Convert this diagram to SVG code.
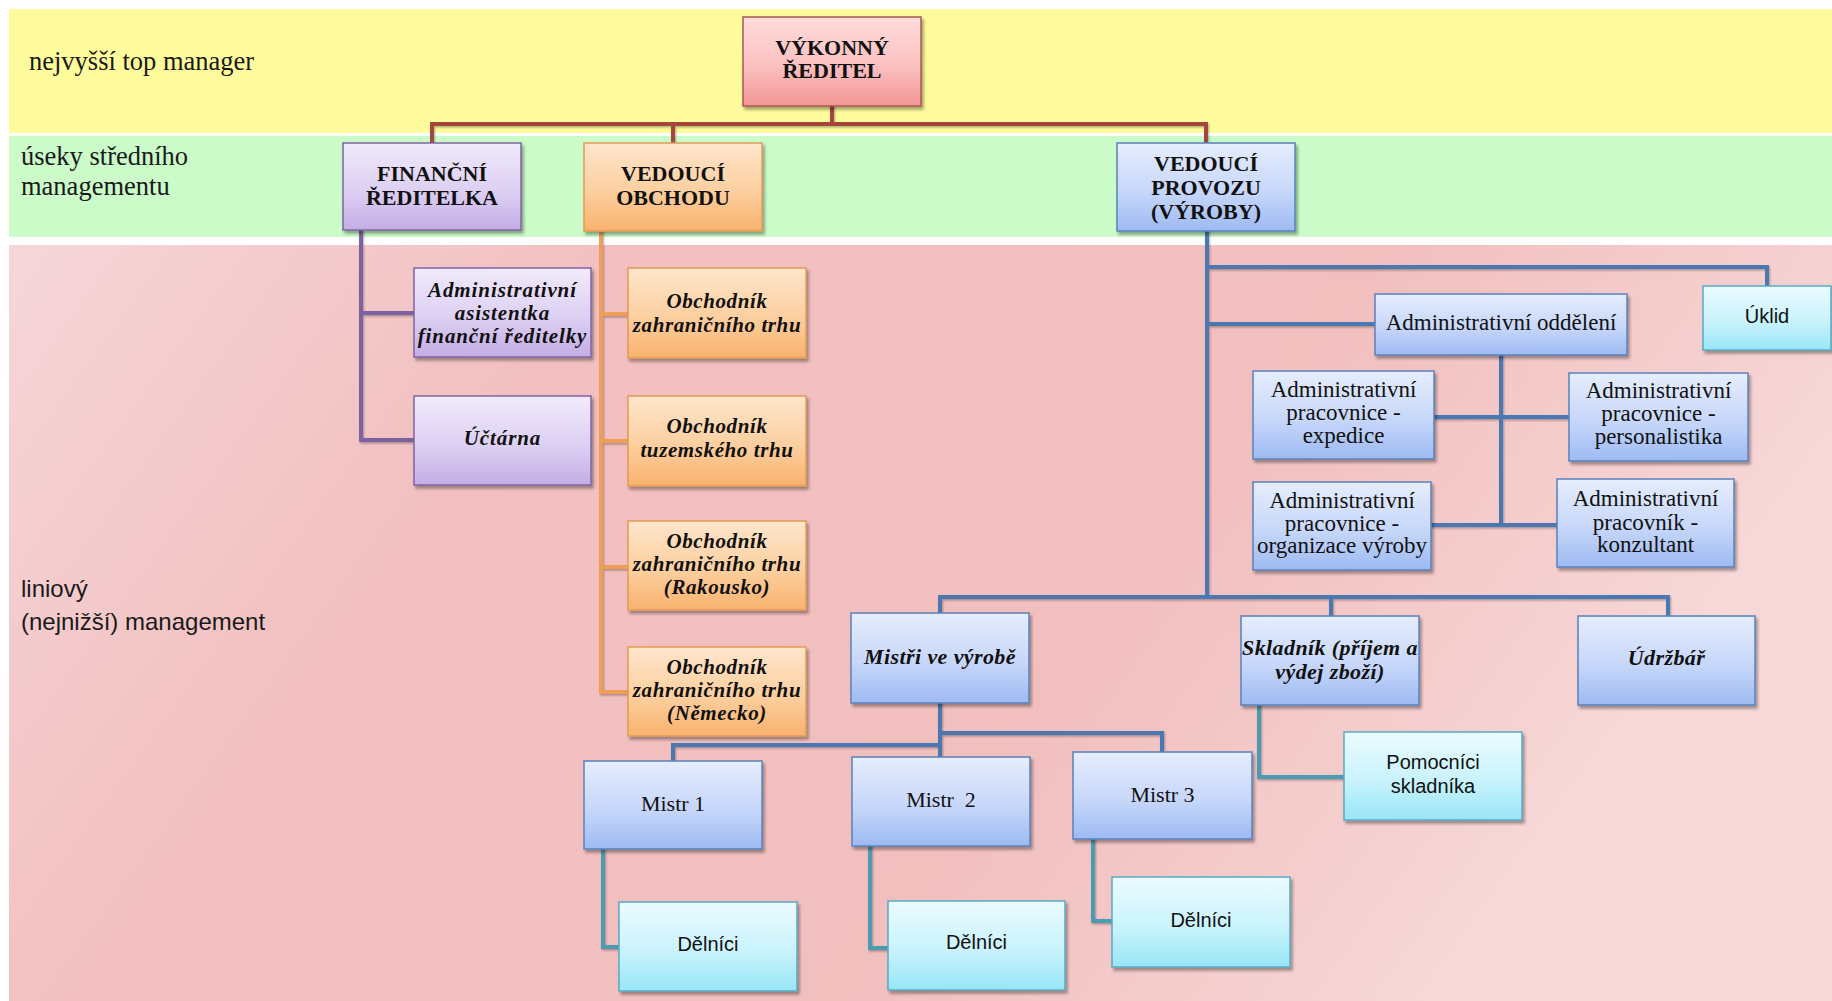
<svg xmlns="http://www.w3.org/2000/svg" width="1832" height="1001" viewBox="0 0 1832 1001">
<style>
.lbl-serif{font-family:"Liberation Serif","Times New Roman",serif;font-size:26.5px;fill:#1a1a1a}
.lbl-sans{font-family:"Liberation Sans",Arial,sans-serif;font-size:24px;fill:#1a1a1a}
.box{stroke-width:1.5;filter:url(#sh)}
.red{fill:url(#gRed);stroke:#a85a50}
.pur{fill:url(#gPur);stroke:#8064a2}
.ora{fill:url(#gOra);stroke:#e39a55}
.blu{fill:url(#gBlu);stroke:#5a82bb}
.cya{fill:url(#gCya);stroke:#5aaac4}
text.t{text-anchor:middle;fill:#111}
.tb{font-family:"Liberation Serif","Times New Roman",serif;font-weight:bold;font-size:22px}
.tbi{font-family:"Liberation Serif","Times New Roman",serif;font-weight:bold;font-style:italic;font-size:21px;letter-spacing:0.9px}
.tob{font-family:"Liberation Serif","Times New Roman",serif;font-weight:bold;font-style:italic;font-size:21px;letter-spacing:0.6px}
.tbi2{font-family:"Liberation Serif","Times New Roman",serif;font-weight:bold;font-style:italic;font-size:22px;letter-spacing:0.4px}
.tr{font-family:"Liberation Serif","Times New Roman",serif;font-size:22px}
.ta{font-family:"Liberation Serif","Times New Roman",serif;font-size:23px}
.ts{font-family:"Liberation Sans",Arial,sans-serif;font-size:20px}
.c{fill:none;stroke-width:4;stroke-linecap:square;stroke-linejoin:miter;filter:url(#shl)}
.cr{stroke:#a3463e}
.cp{stroke:#7c62a0}
.co{stroke:#f09e55}
.cb{stroke:#4a78b3}
.ct{stroke:#4b9cb2}
</style>
<defs>
<filter id="sh" x="-10%" y="-10%" width="130%" height="130%">
<feDropShadow dx="2" dy="3" stdDeviation="1.8" flood-color="#000" flood-opacity="0.35"/>
</filter>
<filter id="shl" x="-5%" y="-5%" width="110%" height="110%">
<feDropShadow dx="1" dy="1.5" stdDeviation="1" flood-color="#000" flood-opacity="0.3"/>
</filter>
<linearGradient id="gRed" x1="0" y1="0" x2="0" y2="1"><stop offset="0" stop-color="#ffdcdc"/><stop offset="0.55" stop-color="#fbc0c0"/><stop offset="1" stop-color="#f39595"/></linearGradient>
<linearGradient id="gPur" x1="0" y1="0" x2="0" y2="1"><stop offset="0" stop-color="#f1eafb"/><stop offset="0.55" stop-color="#ddd0f3"/><stop offset="1" stop-color="#c3ade6"/></linearGradient>
<linearGradient id="gOra" x1="0" y1="0" x2="0" y2="1"><stop offset="0" stop-color="#fee6cc"/><stop offset="0.55" stop-color="#fccf9f"/><stop offset="1" stop-color="#f9b26e"/></linearGradient>
<linearGradient id="gBlu" x1="0" y1="0" x2="0" y2="1"><stop offset="0" stop-color="#e6edfd"/><stop offset="0.55" stop-color="#c7d7fa"/><stop offset="1" stop-color="#9dbaf2"/></linearGradient>
<linearGradient id="gCya" x1="0" y1="0" x2="0" y2="1"><stop offset="0" stop-color="#ebfbff"/><stop offset="0.55" stop-color="#c9f3fc"/><stop offset="1" stop-color="#98e6f7"/></linearGradient>
<linearGradient id="gPink" x1="0" y1="0" x2="1" y2="0.3"><stop offset="0" stop-color="#f6d6d9"/><stop offset="0.3" stop-color="#f2c0c0"/><stop offset="0.7" stop-color="#f2bfbf"/><stop offset="1" stop-color="#f7d8d8"/></linearGradient>
</defs>
<rect x="0" y="0" width="1832" height="1001" fill="#ffffff"/>
<g id="bands">
<rect x="9" y="9" width="1823" height="124" fill="#fefb9c"/>
<rect x="9" y="136" width="1823" height="101" fill="#cafbc8"/>
<rect x="9" y="245" width="1823" height="756" fill="url(#gPink)"/>
<text class="lbl-serif" x="29" y="70">nejvyšší top manager</text>
<text class="lbl-serif" x="21" y="165">úseky středního</text>
<text class="lbl-serif" x="21" y="195">managementu</text>
<text class="lbl-sans" x="21" y="597">liniový</text>
<text class="lbl-sans" x="21" y="630">(nejnižší) management</text>
</g>
<g id="connectors">
<path class="c cr" d="M832,106 V124 M432,143 V124 H1206 V143 M673,124 V143"/>
<path class="c cp" d="M361,230 V440 H414 M361,313 H414"/>
<path class="c co" d="M601,231 V692 H628 M601,314 H628 M601,441 H628 M601,567 H628"/>
<path class="c cb" d="M1207,231 V597 M1207,267 H1767 V286 M1207,324 H1375 M1501,355 V525 M1434,417 H1569 M1431,525 H1557 M940,613 V597 H1668 V616 M1331,597 V616 M940,703 V757 M940,745 H673 V761 M940,733 H1162 V752"/>
<path class="c ct" d="M1259,705 V777 H1344 M603,849 V947 H619 M870,846 V948 H888 M1093,839 V921 H1112"/>
</g>
<g id="vykonny"><rect class="box red" x="743" y="17" width="178" height="89"/><text class="t tb" x="832" y="55">VÝKONNÝ</text><text class="t tb" x="832" y="78">ŘEDITEL</text></g>
<g id="financni"><rect class="box pur" x="343" y="143" width="178" height="87"/><text class="t tb" x="432" y="181">FINANČNÍ</text><text class="t tb" x="432" y="205">ŘEDITELKA</text></g>
<g id="obchodu"><rect class="box ora" x="584" y="143" width="178" height="88"/><text class="t tb" x="673" y="181">VEDOUCÍ</text><text class="t tb" x="673" y="205">OBCHODU</text></g>
<g id="provozu"><rect class="box blu" x="1117" y="143" width="178" height="88"/><text class="t tb" x="1206" y="171">VEDOUCÍ</text><text class="t tb" x="1206" y="195">PROVOZU</text><text class="t tb" x="1206" y="219">(VÝROBY)</text></g>
<g id="asistentka"><rect class="box pur" x="414" y="268" width="177" height="89"/><text class="t tbi" x="502.5" y="297">Administrativní</text><text class="t tbi" x="502.5" y="320">asistentka</text><text class="t tbi" x="502.5" y="343">finanční ředitelky</text></g>
<g id="uctarna"><rect class="box pur" x="414" y="396" width="177" height="89"/><text class="t tbi" x="502.5" y="445">Účtárna</text></g>
<g id="obchodnik1"><rect class="box ora" x="628" y="268" width="178" height="90"/><text class="t tob" x="717" y="308">Obchodník</text><text class="t tob" x="717" y="332">zahraničního trhu</text></g>
<g id="obchodnik2"><rect class="box ora" x="628" y="396" width="178" height="90"/><text class="t tob" x="717" y="433">Obchodník</text><text class="t tob" x="717" y="457">tuzemského trhu</text></g>
<g id="obchodnik3"><rect class="box ora" x="628" y="521" width="178" height="89"/><text class="t tob" x="717" y="548">Obchodník</text><text class="t tob" x="717" y="571">zahraničního trhu</text><text class="t tob" x="717" y="594">(Rakousko)</text></g>
<g id="obchodnik4"><rect class="box ora" x="628" y="647" width="178" height="89"/><text class="t tob" x="717" y="674">Obchodník</text><text class="t tob" x="717" y="697">zahraničního trhu</text><text class="t tob" x="717" y="720">(Německo)</text></g>
<g id="uklid"><rect class="box cya" x="1703" y="286" width="128" height="64"/><text class="t ts" x="1767" y="323">Úklid</text></g>
<g id="admin-oddeleni"><rect class="box blu" x="1375" y="294" width="252" height="61"/><text class="t ta" x="1501" y="330">Administrativní oddělení</text></g>
<g id="expedice"><rect class="box blu" x="1253" y="371" width="181" height="88"/><text class="t ta" x="1343.5" y="397">Administrativní</text><text class="t ta" x="1343.5" y="420">pracovnice -</text><text class="t ta" x="1343.5" y="443">expedice</text></g>
<g id="personalistika"><rect class="box blu" x="1569" y="373" width="179" height="88"/><text class="t ta" x="1658.5" y="398">Administrativní</text><text class="t ta" x="1658.5" y="421">pracovnice -</text><text class="t ta" x="1658.5" y="444">personalistika</text></g>
<g id="organizace"><rect class="box blu" x="1253" y="482" width="178" height="88"/><text class="t ta" x="1342" y="508">Administrativní</text><text class="t ta" x="1342" y="531">pracovnice -</text><text class="t ta" x="1342" y="553">organizace výroby</text></g>
<g id="konzultant"><rect class="box blu" x="1557" y="479" width="177" height="88"/><text class="t ta" x="1645.5" y="506">Administrativní</text><text class="t ta" x="1645.5" y="530">pracovník -</text><text class="t ta" x="1645.5" y="552">konzultant</text></g>
<g id="mistri"><rect class="box blu" x="851" y="613" width="178" height="90"/><text class="t tbi2" x="940" y="664">Mistři ve výrobě</text></g>
<g id="skladnik"><rect class="box blu" x="1241" y="616" width="178" height="89"/><text class="t tbi2" x="1330" y="655">Skladník (příjem a</text><text class="t tbi2" x="1330" y="679">výdej zboží)</text></g>
<g id="udrzbar"><rect class="box blu" x="1578" y="616" width="177" height="89"/><text class="t tbi2" x="1666.5" y="665">Údržbář</text></g>
<g id="mistr1"><rect class="box blu" x="584" y="761" width="178" height="88"/><text class="t tr" x="673" y="811">Mistr 1</text></g>
<g id="mistr2"><rect class="box blu" x="852" y="757" width="178" height="89"/><text class="t tr" x="941" y="807" xml:space="preserve">Mistr  2</text></g>
<g id="mistr3"><rect class="box blu" x="1073" y="752" width="179" height="87"/><text class="t tr" x="1162.5" y="802">Mistr 3</text></g>
<g id="pomocnici"><rect class="box cya" x="1344" y="732" width="178" height="88"/><text class="t ts" x="1433" y="769">Pomocníci</text><text class="t ts" x="1433" y="793">skladníka</text></g>
<g id="delnici1"><rect class="box cya" x="619" y="902" width="178" height="89"/><text class="t ts" x="708" y="951">Dělníci</text></g>
<g id="delnici2"><rect class="box cya" x="888" y="901" width="177" height="89"/><text class="t ts" x="976.5" y="949">Dělníci</text></g>
<g id="delnici3"><rect class="box cya" x="1112" y="877" width="178" height="90"/><text class="t ts" x="1201" y="927">Dělníci</text></g>
</svg>
